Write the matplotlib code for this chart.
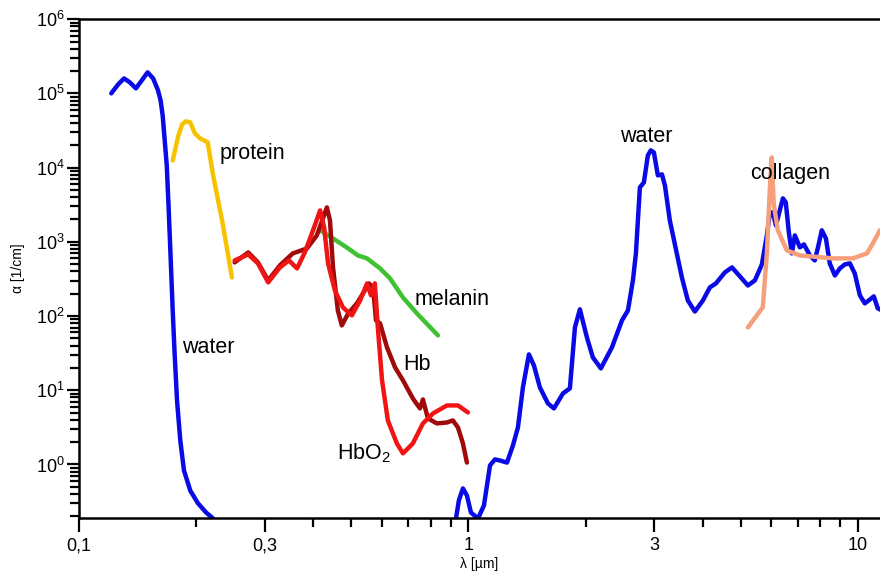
import matplotlib
matplotlib.use("Agg")
import matplotlib.pyplot as plt
import numpy as np

plt.rcParams['font.family'] = ['Liberation Sans', 'DejaVu Sans']
plt.rcParams['mathtext.fontset'] = 'custom'
plt.rcParams['mathtext.rm'] = 'Liberation Sans'
plt.rcParams['mathtext.it'] = 'Liberation Sans:italic'

# water, UV part  (wavelength in um, alpha in 1/cm)
water_uv_wl = [0.121, 0.126, 0.1305, 0.135, 0.140, 0.145, 0.150, 0.155, 0.1595, 0.162, 0.164,
               0.166, 0.168, 0.170, 0.172, 0.174, 0.176, 0.1785, 0.182, 0.186, 0.193, 0.202,
               0.212, 0.221]
water_uv_a = [1.0e5, 1.32e5, 1.59e5, 1.41e5, 1.17e5, 1.5e5, 1.92e5, 1.59e5, 1.1e5, 8.05e4, 5.0e4,
              2.3e4, 1.07e4, 2.6e3, 561, 119, 31, 7.3, 2.1, 0.83, 0.446, 0.30,
              0.225, 0.187]

# water, near/mid IR part
water_ir_wl = [0.929, 0.945, 0.968, 0.991, 1.015, 1.058, 1.096, 1.136, 1.17, 1.205, 1.256, 1.301,
               1.34, 1.38, 1.43, 1.473, 1.526, 1.60, 1.658, 1.749, 1.822, 1.877, 1.933, 2.015,
               2.087, 2.188, 2.336, 2.479, 2.568, 2.645, 2.692, 2.756, 2.822, 2.889, 2.941, 2.994,
               3.065, 3.14, 3.196, 3.29, 3.533, 3.66, 3.815, 4.0, 4.169, 4.32, 4.556, 4.75, 4.98,
               5.22, 5.44, 5.67, 5.84, 5.945, 6.05, 6.16, 6.42, 6.53, 6.65, 6.77, 6.89, 7.10, 7.27,
               7.53, 7.75, 7.89, 8.08, 8.28, 8.47, 8.73, 8.99, 9.26, 9.54, 9.82, 10.12, 10.42,
               10.74, 10.99, 11.25, 11.53]
water_ir_a = [0.187, 0.327, 0.475, 0.382, 0.225, 0.187, 0.28, 0.97, 1.17, 1.13, 1.06, 1.80,
              3.15, 10.9, 30.4, 21.6, 10.9, 6.64, 5.69, 9.06, 10.6, 70.2, 123, 51.5,
              27.7, 19.7, 37.7, 87.3, 119, 302, 698, 5.41e3, 6.31e3, 1.46e4, 1.71e4, 1.6e4,
              7.85e3, 8.1e3, 5.75e3, 1.94e3, 331, 162, 115, 162, 243, 275, 387, 452, 342,
              258, 302, 496, 1.22e3, 2.49e3, 2.49e3, 1.66e3, 3.85e3, 3.4e3, 1.34e3, 698, 1.22e3, 841, 923,
              656, 561, 815, 1.43e3, 1.11e3, 512, 352, 438, 496, 512, 375, 190, 148,
              167, 184, 127, 119]

protein_wl = [0.174, 0.180, 0.184, 0.188, 0.193, 0.1985, 0.2045, 0.214, 0.221, 0.233, 0.247]
protein_a = [1.25e4, 2.72e4, 3.82e4, 4.2e4, 4.07e4, 2.89e4, 2.48e4, 2.19e4, 7.85e3, 1.94e3, 331]

hbo2_wl = [0.251, 0.272, 0.288, 0.306, 0.328, 0.346, 0.363, 0.380, 0.399, 0.416, 0.426, 0.436,
           0.454, 0.476, 0.502, 0.527, 0.549, 0.562, 0.575, 0.586, 0.600, 0.621, 0.655, 0.679,
           0.720, 0.764, 0.811, 0.881, 0.940, 0.997]
hbo2_a = [561, 676, 512, 284, 452, 561, 438, 719, 1.43e3, 2.65e3, 1.56e3, 512,
          221, 131, 102, 162, 275, 190, 275, 64, 13.6, 3.92, 1.92, 1.41,
          1.92, 3.57, 4.87, 6.24, 6.24, 5.02]

hb_wl = [0.251, 0.272, 0.288, 0.306, 0.328, 0.354, 0.385, 0.408, 0.433, 0.441, 0.449, 0.462,
         0.473, 0.491, 0.517, 0.542, 0.555, 0.569, 0.579, 0.593, 0.618, 0.648, 0.679, 0.720,
         0.738, 0.751, 0.764, 0.787, 0.830, 0.881, 0.912, 0.940, 0.968, 0.991]
hb_a = [528, 719, 528, 302, 481, 698, 815, 1.22e3, 2.91e3, 1.94e3, 452, 119,
        74.7, 108, 148, 221, 275, 243, 87.3, 79.5, 37.7, 20.3, 13.6, 7.75,
        6.44, 5.69, 7.52, 4.17, 3.57, 3.68, 3.92, 3.15, 1.92, 1.06]

melanin_wl = [0.416, 0.449, 0.491, 0.520, 0.549, 0.593, 0.629, 0.679, 0.738, 0.835]
melanin_a = [1.43e3, 1.11e3, 815, 656, 598, 438, 321, 178, 108, 54.8]

collagen_wl = [5.22, 5.70, 5.84, 5.945, 6.01, 6.08, 6.23, 6.57, 7.10, 8.63, 9.71, 10.55, 10.93, 11.39]
collagen_a = [70.2, 131, 698, 5.41e3, 1.37e4, 3.29e3, 1.43e3, 766, 656, 598, 598, 698, 951, 1.43e3]

fig = plt.figure(figsize=(8.8, 5.74), dpi=100)
ax = fig.add_axes([0.0898, 0.0976, 0.9102, 0.869])

lw = 3.2
style = dict(lw=lw, solid_joinstyle='round', solid_capstyle='round')
ax.plot(water_uv_wl, water_uv_a, color='#0A0AE6', **style)
ax.plot(water_ir_wl, water_ir_a, color='#0A0AE6', **style)
ax.plot(protein_wl, protein_a, color='#F7C200', **style)
ax.plot(melanin_wl, melanin_a, color='#3EC232', **style)
ax.plot(hb_wl, hb_a, color='#A00A0A', **style)
ax.plot(hbo2_wl, hbo2_a, color='#F01414', **style)
ax.plot(collagen_wl, collagen_a, color='#F5A07A', **style)

ax.set_xscale('log')
ax.set_yscale('log')
ax.set_xlim(0.1, 11.4)
ax.set_ylim(0.19, 1e6)

ax.set_xticks([0.1, 0.3, 1, 3, 10])
ax.set_xticklabels(['0,1', '0,3', '1', '3', '10'])
ax.set_xticks([0.2, 0.4, 0.5, 0.6, 0.7, 0.8, 0.9, 2, 4, 5, 6, 7, 8, 9], minor=True)
ax.xaxis.set_minor_formatter(matplotlib.ticker.NullFormatter())

ydec = [1, 10, 100, 1e3, 1e4, 1e5, 1e6]
ax.set_yticks(ydec)
ax.set_yticklabels([r'$\mathregular{10^{%d}}$' % i for i in range(7)])
ax.yaxis.set_minor_locator(matplotlib.ticker.LogLocator(base=10, subs=np.arange(2, 10)))
ax.yaxis.set_minor_formatter(matplotlib.ticker.NullFormatter())

ax.tick_params(axis='both', which='major', labelsize=13, width=1.6, color='black')
ax.tick_params(axis='x', which='major', length=10, pad=4)
ax.tick_params(axis='x', which='minor', length=6.5, width=1.6)
ax.tick_params(axis='y', which='major', length=8.5, pad=2)
ax.tick_params(axis='y', which='minor', length=6.5, width=1.6)

for s in ['left', 'bottom', 'top']:
    ax.spines[s].set_linewidth(1.8)
ax.spines['right'].set_visible(False)

ax.set_xlabel('λ [µm]', fontsize=10, family=['Liberation Sans Narrow', 'Liberation Sans'], labelpad=2)
ax.set_ylabel('α [1/cm]', fontsize=10, family=['Liberation Sans Narrow', 'Liberation Sans'], labelpad=8)

fs = 15.5
ax.text(0.230, 1.55e4, 'protein', fontsize=fs, va='center')
ax.text(0.184, 37.7, 'water', fontsize=fs, va='center')
ax.text(0.729, 167, 'melanin', fontsize=fs, va='center')
ax.text(0.679, 22.3, 'Hb', fontsize=fs, va='center')
ax.text(0.460, 1.41, r'HbO$_2$', fontsize=fs, va='center')
ax.text(2.45, 2.63e4, 'water', fontsize=fs, va='center')
ax.text(5.28, 8.35e3, 'collagen', fontsize=fs, va='center')

fig.savefig('out.png', dpi=100)
